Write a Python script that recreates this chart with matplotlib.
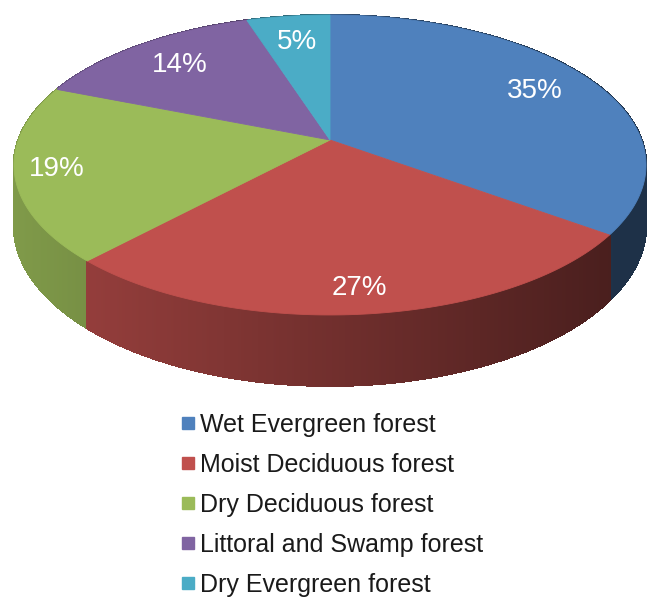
import numpy as np
import matplotlib
matplotlib.use("Agg")
import matplotlib.pyplot as plt
from matplotlib.patches import Polygon
from matplotlib.collections import PolyCollection
from matplotlib.lines import Line2D
from matplotlib.colors import to_rgb

plt.rcParams['font.family'] = ['Liberation Sans', 'DejaVu Sans']

# forest cover shares (%)
categories = ['Wet Evergreen forest', 'Moist Deciduous forest', 'Dry Deciduous forest',
              'Littoral and Swamp forest', 'Dry Evergreen forest']
shares = [35, 27, 19, 14, 5]
colors = ['#4F81BD', '#C0504D', '#9BBB59', '#8064A2', '#4BACC6']
label_radius = [0.78, 0.87, 0.87, 0.77, 0.77]

# 3d pie geometry (pixel space of the figure)
cx, cy = 330, 140
rx, ry = 311.6, 145.8
persp = 0.1667
depth = 59


def project(theta, rho=1.0, z=0.0):
    # theta in degrees, clockwise from the back (top of the picture)
    t = np.radians(theta)
    u = rho * np.sin(t)
    v = -rho * np.cos(t)
    s = 1.0 / (1.0 - persp * v)
    return cx + rx * u * s, cy + ry * v * s + z * depth * s


def shade(color, x):
    f = 0.82 - 0.42 * (x - 20) / 570
    f = min(max(f, 0.38), 0.85)
    return tuple(c * f for c in to_rgb(color))


fig = plt.figure(figsize=(6.54, 6.01), dpi=100)
ax = fig.add_axes([0, 0, 1, 1])
ax.set_xlim(0, 654)
ax.set_ylim(601, 0)
ax.axis('off')

total = float(sum(shares))
bounds = np.concatenate([[0], np.cumsum(shares)]) / total * 360

# side wall, split in thin strips and painted back to front
quads, qcols, qdepth = [], [], []
for i, col in enumerate(colors):
    a0, a1 = bounds[i], bounds[i + 1]
    steps = np.linspace(a0, a1, max(int((a1 - a0) * 4), 2) + 1)
    for t0, t1 in zip(steps[:-1], steps[1:]):
        x0, y0 = project(t0)
        x1, y1 = project(t1)
        x0b, y0b = project(t0, z=1)
        x1b, y1b = project(t1, z=1)
        quads.append([(x0, y0), (x1, y1), (x1b, y1b), (x0b, y0b)])
        qcols.append(shade(col, (x0 + x1) / 2))
        qdepth.append(-np.cos(np.radians((t0 + t1) / 2)))
order = np.argsort(qdepth)
side = PolyCollection([quads[j] for j in order], facecolors=[qcols[j] for j in order],
                      edgecolors=[qcols[j] for j in order], linewidths=1.0,
                      antialiaseds=False)
ax.add_collection(side)

# top face
for i, col in enumerate(colors):
    a0, a1 = bounds[i], bounds[i + 1]
    tt = np.linspace(a0, a1, 200)
    xs, ys = project(tt)
    pts = [(cx, cy)] + list(zip(xs, ys))
    ax.add_patch(Polygon(pts, closed=True, facecolor=col, edgecolor=col, linewidth=0.6))

# percentage labels
for i, p in enumerate(shares):
    mid = (bounds[i] + bounds[i + 1]) / 2
    lx, ly = project(mid, rho=label_radius[i])
    ax.text(lx, ly, f'{p}%', color='white', fontsize=20, ha='center', va='center')

handles = [Line2D([], [], marker='s', linestyle='none', markersize=8.5,
                  markerfacecolor=c, markeredgecolor=c) for c in colors]
fig.legend(handles, categories, loc='upper left', bbox_to_anchor=(180 / 654, 1 - 413 / 601),
           frameon=False, fontsize=18, labelspacing=0.64, handletextpad=0.2,
           handlelength=0.6, borderaxespad=0, borderpad=0, labelcolor='#1a1a1a')

fig.savefig('out.png', dpi=100)
